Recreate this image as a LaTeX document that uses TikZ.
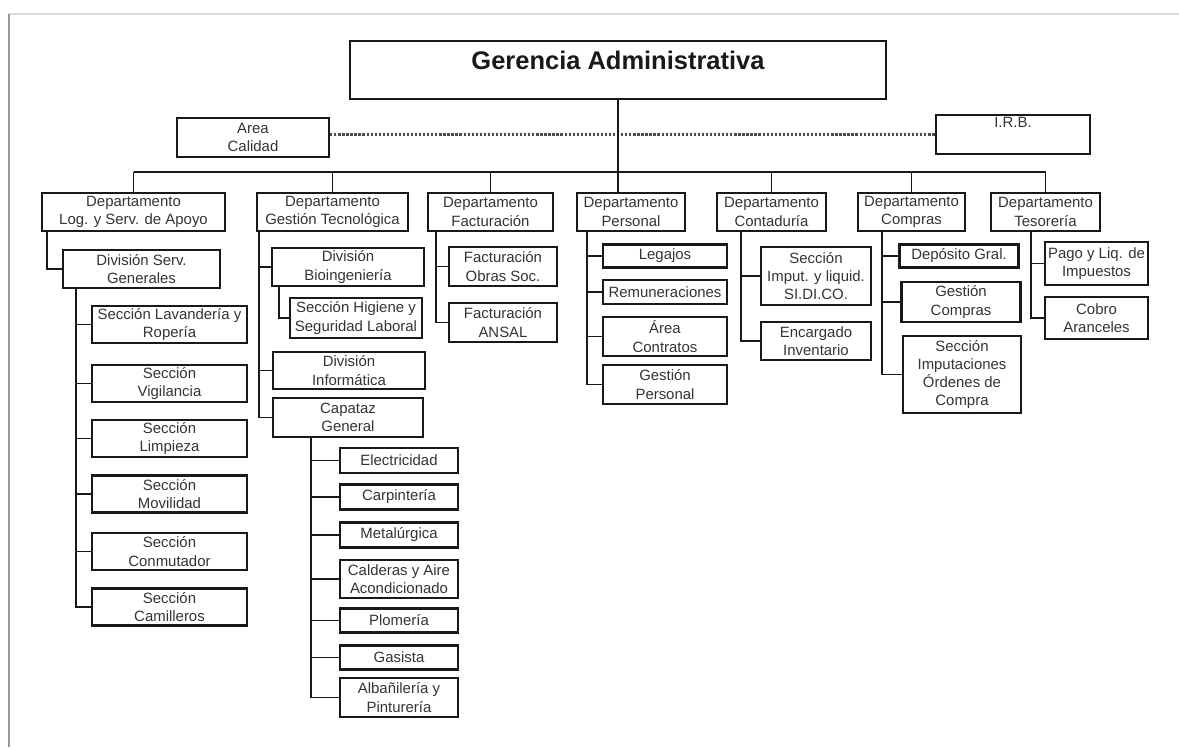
\documentclass[tikz,border=0pt]{standalone}
\usepackage{fontspec}
\setmainfont{Liberation Sans}

\begin{document}
\begin{tikzpicture}[x=0.02cm, y=-0.02cm,
    unit/.style 2 args={rectangle, draw=black!90, line width=1.3pt, minimum width=#1*0.02cm, minimum height=#2*0.02cm, inner sep=1pt, align=center, text=black!80, font=\fontsize{8.5}{10.4}\selectfont},
    link/.style={draw=black!90, line width=1.1pt}]

    \useasboundingbox (0,0) rectangle (1179,747);
    \draw[black!15, line width=1.6pt] (9,14) -- (1179,14);
    \draw[black!40, line width=1.2pt] (9,14) -- (9,747);

    % top
    \node[unit={536}{58}, font=\fontsize{14.5}{16}\selectfont\bfseries, text=black!90, text depth=11pt] (ger) at (618,70) {Gerencia Administrativa};
    \node[unit={152}{39}] (cal) at (253,137.5) {Area\\Calidad};
    \node[unit={154}{39}] (irb) at (1013,134.5) {I.R.B.\\\strut};
    \draw[black!70, line width=1.3pt, densely dotted] (cal.east |- irb.west) -- (irb.west);

    % departamentos
    \node[unit={183}{38}] (d1) at (133.5,212) {Departamento\\Log. y Serv. de Apoyo};
    \node[unit={151}{38}] (d2) at (332.5,212) {Departamento\\Gestión Tecnológica};
    \node[unit={125}{38}] (d3) at (490.5,212) {Departamento\\Facturación};
    \node[unit={108}{38}] (d4) at (631,212) {Departamento\\Personal};
    \node[unit={109}{38}] (d5) at (771.5,212) {Departamento\\Contaduría};
    \node[unit={107}{38}] (d6) at (911.5,212) {Departamento\\Compras};
    \node[unit={109}{38}] (d7) at (1045.5,212) {Departamento\\Tesorería};

    \coordinate (bus) at (0,172);
    \draw[link] (ger.south) -- (ger.south |- d4.north);
    \draw[link] (d1.north |- bus) -- (d7.north |- bus);
    \foreach \d in {d1,d2,d3,d5,d6,d7}
        \draw[link] (\d.north) -- (\d.north |- bus);

    % Log. y Serv. de Apoyo
    \node[unit={157}{38}] (dsg) at (141.5,269) {División Serv.\\Generales};
    \node[unit={155}{37}] (slav) at (169.5,324.5) {Sección Lavandería y\\Ropería};
    \node[unit={155}{37}] (svig) at (169.5,383.5) {Sección\\Vigilancia};
    \node[unit={155}{37}] (slim) at (169.5,438.5) {Sección\\Limpieza};
    \node[unit={155}{37}] (smov) at (169.5,494) {Sección\\Movilidad};
    \node[unit={155}{37}] (scon) at (169.5,551.5) {Sección\\Conmutador};
    \node[unit={155}{37}] (scam) at (169.5,607) {Sección\\Camilleros};
    \draw[link] (d1.south west) ++(6,0) |- (dsg.west);
    \foreach \s in {slav,svig,slim,smov,scon,scam}
        \draw[link] (dsg.south west) ++(14,0) |- (\s.west);

    % Gestion Tecnologica
    \node[unit={152}{38}] (dbio) at (348,267) {División\\Bioingeniería};
    \node[unit={132}{40}] (shig) at (356,318) {Sección Higiene y\\Seguridad Laboral};
    \node[unit={152}{37}] (dinf) at (349,370.5) {División\\Informática};
    \node[unit={150}{39}] (cap) at (348,417.5) {Capataz\\General};
    \draw[link] (dbio.south west) ++(8,0) |- (shig.west);
    \foreach \s in {dbio,dinf,cap}
        \draw[link] (d2.south west) ++(3,0) |- (\s.west);

    \node[unit={118}{25}] (elec) at (399,460.5) {Electricidad};
    \node[unit={118}{25}] (carp) at (399,497) {Carpintería};
    \node[unit={118}{25}] (meta) at (399,535) {Metalúrgica};
    \node[unit={118}{38}] (cald) at (399,579) {Calderas y Aire\\Acondicionado};
    \node[unit={118}{24}] (plom) at (399,620.5) {Plomería};
    \node[unit={118}{24}] (gas) at (399,657.5) {Gasista};
    \node[unit={118}{39}] (alb) at (399,697.5) {Albañilería y\\Pinturería};
    \foreach \s in {elec,carp,meta,cald,plom,gas,alb}
        \draw[link] (cap.south west) ++(39,0) |- (\s.west);

    % Facturacion
    \node[unit={108}{39}] (fos) at (503,266.5) {Facturación\\Obras Soc.};
    \node[unit={108}{39}] (fan) at (503,322.5) {Facturación\\ANSAL};
    \foreach \s in {fos,fan}
        \draw[link] (d3.south west) ++(9,0) |- (\s.west);

    % Personal
    \node[unit={124}{23}] (leg) at (665,256) {Legajos};
    \node[unit={124}{24}] (rem) at (665,292) {Remuneraciones};
    \node[unit={124}{39}] (con) at (665,336.5) {Área\\Contratos};
    \node[unit={124}{39}] (gpe) at (665,384.5) {Gestión\\Personal};
    \foreach \s in {leg,rem,con,gpe}
        \draw[link] (d4.south west) ++(11,0) |- (\s.west);

    % Contaduria
    \node[unit={110}{58}] (sim) at (816,276) {Sección\\Imput. y liquid.\\SI.DI.CO.};
    \node[unit={110}{38}] (inv) at (816,341) {Encargado\\Inventario};
    \foreach \s in {sim,inv}
        \draw[link] (d5.south west) ++(25,0) |- (\s.west);

    % Compras
    \node[unit={119}{23}] (dep) at (959,256) {Depósito Gral.};
    \node[unit={119}{40}] (gco) at (961,302) {Gestión\\Compras};
    \node[unit={118}{77}] (sio) at (962,374.5) {Sección\\Imputaciones\\Órdenes de\\Compra};
    \foreach \s in {dep,gco,sio}
        \draw[link] (d6.south west) ++(25,0) |- (\s.west);

    % Tesoreria
    \node[unit={103}{43}] (pag) at (1096.5,263.5) {Pago y Liq. de\\Impuestos};
    \node[unit={103}{42}] (cob) at (1096.5,318) {Cobro\\Aranceles};
    \foreach \s in {pag,cob}
        \draw[link] (d7.south west) ++(41,0) |- (\s.west);
\end{tikzpicture}
\end{document}
